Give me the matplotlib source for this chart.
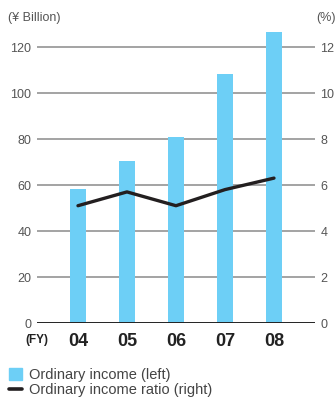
import matplotlib.pyplot as plt
from matplotlib.lines import Line2D
from matplotlib.patches import Patch

plt.rcParams['font.family'] = ['Liberation Sans', 'DejaVu Sans']

years = ['04', '05', '06', '07', '08']
ordinary_income = [58.3, 70.4, 80.9, 108.3, 126.5]   # ¥ billion, left axis
income_ratio = [5.1, 5.7, 5.1, 5.8, 6.3]               # %, right axis
left_ticks = [0, 20, 40, 60, 80, 100, 120]
right_ticks = [0, 2, 4, 6, 8, 10, 12]

bar_color = '#6dcff6'
line_color = '#231f20'
grid_color = '#8a8a8a'
text_color = '#555555'

fig = plt.figure(figsize=(3.36, 4.01), dpi=100)
ax = fig.add_axes([0.110, 0.1945, 0.8275, 0.7456])
ax2 = ax.twinx()

x = list(range(len(years)))
ax.set_xlim(-0.837, 4.837)
ax.set_ylim(0, 130)
ax2.set_ylim(0, 13)

for t in left_ticks[1:]:
    ax.axhline(t, color=grid_color, lw=1.1, zorder=1)
ax.axhline(0, color='#222222', lw=1.4, zorder=3)

ax.bar(x, ordinary_income, width=0.33, color=bar_color, zorder=2)
ax2.plot(x, income_ratio, color=line_color, lw=2.4, solid_capstyle='round',
         solid_joinstyle='round', zorder=4)

for a in (ax, ax2):
    for s in a.spines.values():
        s.set_visible(False)
    a.tick_params(length=0, labelsize=9, colors=text_color, pad=4)

ax.set_yticks(left_ticks)
ax.set_yticklabels([str(t) for t in left_ticks])
ax2.set_yticks(right_ticks)
ax2.set_yticklabels([str(t) for t in right_ticks])

ax.set_xticks(x)
ax.set_xticklabels(years, fontsize=13, fontweight='bold', color='#222222')
ax.tick_params(axis='x', pad=7)

fig.text(0.109, 0.152, '(FY)', fontsize=8.5, fontweight='bold', color='#222222',
         ha='center', va='center')
fig.text(0.024, 0.955, '(¥ Billion)', fontsize=9, color=text_color, va='center')
fig.text(0.998, 0.955, '(%)', fontsize=9, color=text_color, va='center', ha='right')

handles = [Patch(color=bar_color),
           Line2D([0], [0], color=line_color, lw=2.6, solid_capstyle='round')]
labels = ['Ordinary income (left)', 'Ordinary income ratio (right)']
fig.legend(handles, labels, loc='lower left', bbox_to_anchor=(0.0, -0.013),
           frameon=False, fontsize=10.5, handlelength=0.9, handleheight=0.9,
           handletextpad=0.5, labelspacing=0.1, borderaxespad=0.2,
           labelcolor='#444444')

fig.savefig('out.png', dpi=100)
